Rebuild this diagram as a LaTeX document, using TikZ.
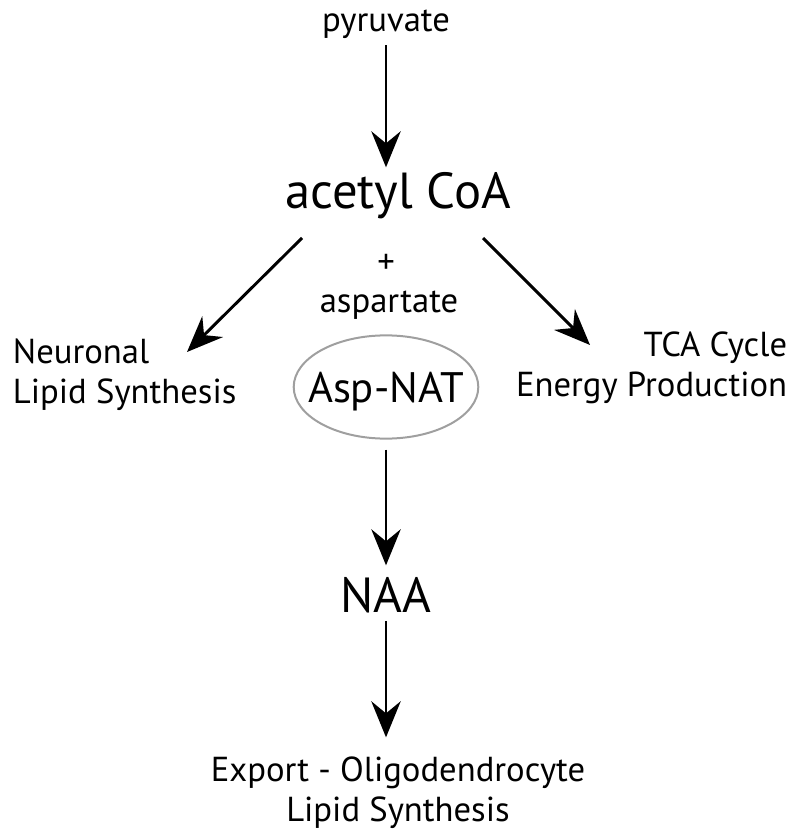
\documentclass[tikz,border=0pt]{standalone}
\usepackage{fontspec}
\setmainfont{PT Sans}
\usetikzlibrary{arrows.meta,shapes.geometric}

\begin{document}
\begin{tikzpicture}[x=0.75pt,y=-0.75pt,
		every node/.style={inner sep=2pt},
		flow/.style={-{Stealth[length=27pt,width=22pt,inset=9pt]},line width=2.2pt},
		small/.style={font=\fontsize{26}{30}\selectfont},
		big/.style={font=\fontsize{37}{42}\selectfont}]
		\useasboundingbox (0,0) rectangle (800,837);

		\node[small,anchor=base] (pyruvate) at (386,32) {pyruvate};
		\node[big,font=\fontsize{38}{42}\selectfont,anchor=base] (acetyl) at (398,209) {acetyl CoA};
		\node[small] (plus) at (386,264) {+};
		\node[small,anchor=base] (aspartate) at (389,313) {aspartate};
		\node[draw=gray!75,line width=1.5pt,ellipse,inner xsep=-9.5pt,inner ysep=16pt,
			text depth=0pt,font=\fontsize{32}{36}\selectfont] (aspnat) at (386,387) {Asp-NAT};
		\node[small,align=left,anchor=north west] (neuronal) at (10,336) {Neuronal\\Lipid Synthesis};
		\node[small,align=right,anchor=north east] (tca) at (790,329) {TCA Cycle\\Energy Production};
		\node[big,anchor=base] (naa) at (386,612) {NAA};
		\node[small,align=center,anchor=north] (export) at (398,754) {Export - Oligodendrocyte\\Lipid Synthesis};

		\coordinate (left split) at (302,238);
		\coordinate (left end) at (187,352);
		\coordinate (right split) at (483,238);
		\coordinate (right end) at (590,345);

		\draw[flow,shorten <=2.5pt,shorten >=2pt] (pyruvate.south) -- (pyruvate.south |- acetyl.north);
		\draw[flow] (left split) -- (left end);
		\draw[flow] (right split) -- (right end);
		\draw[flow,shorten <=7.5pt,shorten >=6.5pt] (aspnat.south) -- (naa.north);
		\draw[flow,shorten <=4pt,shorten >=12.5pt] (naa.south) -- (naa.south |- export.north);
	\end{tikzpicture}
\end{document}
